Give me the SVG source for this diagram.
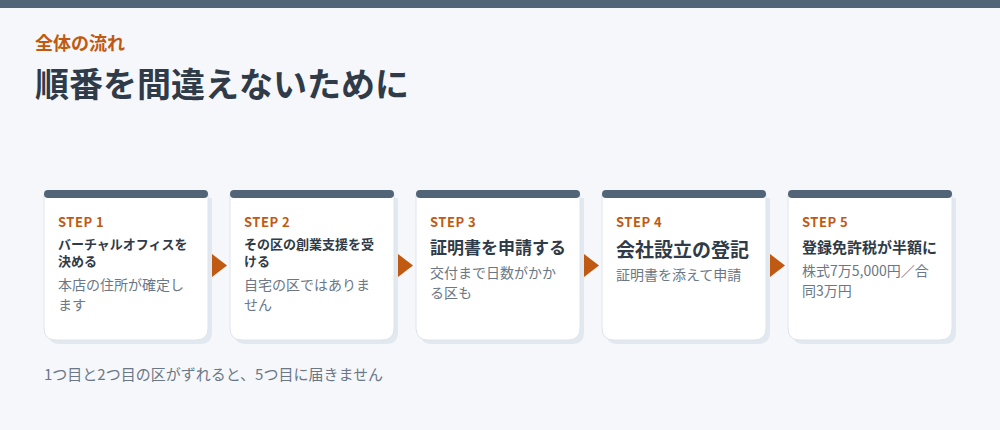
<svg xmlns="http://www.w3.org/2000/svg" width="1000" height="430" viewBox="0 0 1000 430">
<style>
text{font-family:"Noto Sans CJK JP","Noto Sans",sans-serif}
.kick{font-size:18px;font-weight:700;fill:#c05a12}
.h1{font-size:34px;font-weight:700;fill:#2f3b48}
.step{font-size:13px;font-weight:700;fill:#c05a12;letter-spacing:0.5px}
.ttl{font-weight:700;fill:#2f3b48}
.desc{font-size:14px;fill:#6b7786}
.note{font-size:15px;fill:#6b7786}
.shadow{fill:#e2e8ef}
.body{fill:#ffffff;stroke:#dde4ec;stroke-width:1}
.bar{fill:#526477}
.arr{fill:#c05a12}
</style>
<defs>
<path id="card" d="M0,4 H164 V138 Q164,150 152,150 H12 Q0,150 0,138 Z"/>
</defs>
<rect x="0" y="0" width="1000" height="430" fill="#f5f7fa"/>
<rect x="0" y="0" width="1000" height="8" fill="#526477"/>
<text x="35" y="50" class="kick">全体の流れ</text>
<text x="35" y="97" class="h1">順番を間違えないために</text>

<g id="connectors">
<polygon class="arr" points="212,254 227,265.5 212,277"/>
<polygon class="arr" points="398,254 413,265.5 398,277"/>
<polygon class="arr" points="584,254 599,265.5 584,277"/>
<polygon class="arr" points="770,254 785,265.5 770,277"/>
</g>

<g id="step1" transform="translate(44,190)">
<use href="#card" class="shadow" x="4" y="4"/>
<use href="#card" class="body"/>
<rect class="bar" x="0" y="0" width="164" height="8" rx="4"/>
<text x="14" y="36.5" class="step">STEP 1</text>
<text x="14" y="59" class="ttl" font-size="13">バーチャルオフィスを</text>
<text x="14" y="76" class="ttl" font-size="13">決める</text>
<text x="14" y="100" class="desc">本店の住所が確定し</text>
<text x="14" y="120" class="desc">ます</text>
</g>

<g id="step2" transform="translate(230,190)">
<use href="#card" class="shadow" x="4" y="4"/>
<use href="#card" class="body"/>
<rect class="bar" x="0" y="0" width="164" height="8" rx="4"/>
<text x="14" y="36.5" class="step">STEP 2</text>
<text x="14" y="59" class="ttl" font-size="13">その区の創業支援を受</text>
<text x="14" y="76" class="ttl" font-size="13">ける</text>
<text x="14" y="100" class="desc">自宅の区ではありま</text>
<text x="14" y="120" class="desc">せん</text>
</g>

<g id="step3" transform="translate(416,190)">
<use href="#card" class="shadow" x="4" y="4"/>
<use href="#card" class="body"/>
<rect class="bar" x="0" y="0" width="164" height="8" rx="4"/>
<text x="14" y="36.5" class="step">STEP 3</text>
<text x="14" y="63.5" class="ttl" font-size="17">証明書を申請する</text>
<text x="14" y="88" class="desc">交付まで日数がかか</text>
<text x="14" y="108" class="desc">る区も</text>
</g>

<g id="step4" transform="translate(602,190)">
<use href="#card" class="shadow" x="4" y="4"/>
<use href="#card" class="body"/>
<rect class="bar" x="0" y="0" width="164" height="8" rx="4"/>
<text x="14" y="36.5" class="step">STEP 4</text>
<text x="14" y="66.5" class="ttl" font-size="19">会社設立の登記</text>
<text x="14" y="90" class="desc">証明書を添えて申請</text>
</g>

<g id="step5" transform="translate(788,190)">
<use href="#card" class="shadow" x="4" y="4"/>
<use href="#card" class="body"/>
<rect class="bar" x="0" y="0" width="164" height="8" rx="4"/>
<text x="14" y="36.5" class="step">STEP 5</text>
<text x="14" y="62.5" class="ttl" font-size="15">登録免許税が半額に</text>
<text x="14" y="86" class="desc">株式7万5,000円／合</text>
<text x="14" y="106" class="desc">同3万円</text>
</g>

<text x="44" y="380" class="note">1つ目と2つ目の区がずれると、5つ目に届きません</text>
</svg>
